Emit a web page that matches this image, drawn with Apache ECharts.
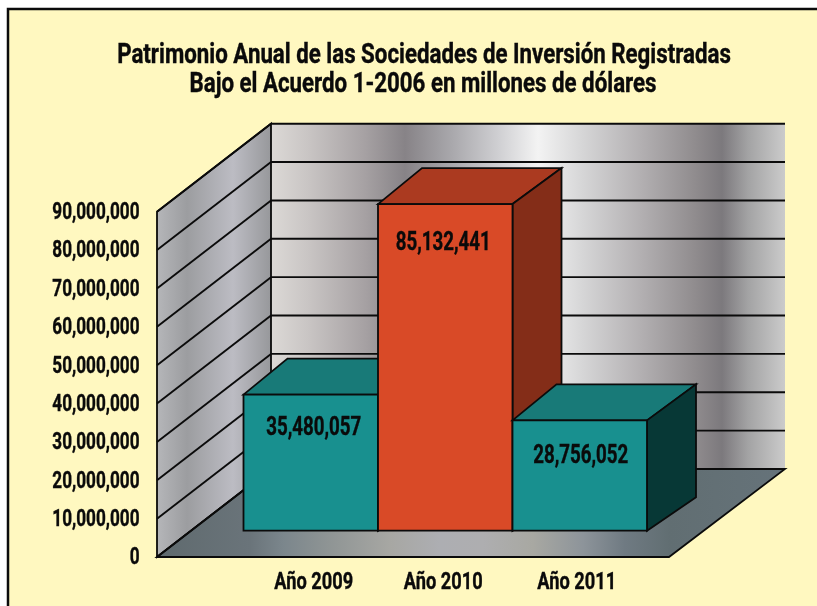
<!DOCTYPE html>
<html><head><meta charset="utf-8">
<style>html,body{margin:0;padding:0;background:#fff}#c{width:817px;height:606px}</style>
<script src="https://cdn.jsdelivr.net/npm/echarts@6/dist/echarts.min.js"></script>
</head><body><div id="c"></div>
<script>
const titleLines = ['Patrimonio Anual de las Sociedades de Inversión Registradas', 'Bajo el Acuerdo 1-2006 en millones de dólares'];
const categories = ['Año 2009', 'Año 2010', 'Año 2011'];
const values = [35480057, 85132441, 28756052];
const yTicks = [0, 10000000, 20000000, 30000000, 40000000, 50000000, 60000000, 70000000, 80000000, 90000000];
const yMax = 90000000, yStep = 10000000;

const FONT = 'Roboto,sans-serif';
const INK = '#0a0a0a';
const LINE = '#0b0b0b';
const barFaces = [
  {front:'#18908f', top:'#187a78', side:'#073836'},
  {front:'#d94a27', top:'#ab3a20', side:'#842d18'},
  {front:'#18908f', top:'#187a78', side:'#073836'}
];
const wallLeftDX = 86.5, wallDX = 114, wallDY = 88;
const barDrop = 26.3, barTopL = 44, barTopR = 49, barTopDY = 36;
const labelShift = [[3,34],[-2,39],[1,36]];
const catLabelDX = [3,-2,-3];

function squeezed(text,x,y,size,scale,align){
  return {type:'text',x,y,scaleX:scale,style:{text,x:0,y:0,align:align||'center',verticalAlign:'middle',fill:INK,stroke:INK,lineWidth:0.4,font:'700 '+size+'px '+FONT}};
}
function hGrad(x0, x1, stops){
  return new echarts.graphic.LinearGradient(x0,0,x1,0,
    stops.map(s=>({offset:(s[0]-x0)/(x1-x0),color:s[1]})),true);
}
const backStops=[[271,'#dcd9d6'],[308,'#c9c5c4'],[365,'#a6a1a3'],[405,'#878387'],[452,'#a9a8ac'],[498,'#cfcfd2'],[538,'#f3f3f3'],[582,'#d6d6d7'],[642,'#b2afb1'],[695,'#908c8e'],[722,'#7c797d'],[748,'#a3a3a4'],[785,'#cbcbcb']];
const sideStops=[[157,'#b5b6b9'],[187,'#9c9da0'],[233,'#bcbcc3'],[271,'#97989b']];
const floorStops=[[157,'#5f6a6e'],[250,'#6a747a'],[283,'#7b868c'],[327,'#8e9494'],[390,'#a7a7a3'],[440,'#adaeb2'],[483,'#aeaeb0'],[533,'#a8a8a2'],[583,'#8d949a'],[625,'#6f7a82'],[670,'#616e72'],[785,'#66737a']];

function poly(points, fill, lw){
  return {type:'polygon',shape:{points},style:{fill,stroke:LINE,lineWidth:lw||1.8,lineJoin:'miter'}};
}
function renderWalls(params, api){
  const cs=params.coordSys;
  const xF=cs.x-wallLeftDX, xB=xF+wallDX, xR=xB+514, xFR=xF+512;
  const y0=api.coord([0,0])[1], yT=api.coord([0,yMax])[1];
  return {type:'group',children:[
    {type:'rect',shape:{x:xB,y:yT-wallDY,width:xR-xB,height:y0-yT},style:{fill:hGrad(271,785,backStops)}},
    poly([[xF,y0],[xB,y0-wallDY],[xB,yT-wallDY],[xF,yT]],hGrad(157,271,sideStops)),
    poly([[xF,y0],[xB,y0-wallDY],[xR,y0-wallDY],[xFR,y0]],hGrad(157,785,floorStops))
  ]};
}
function renderGrid(params, api){
  const cs=params.coordSys;
  const xF=cs.x-wallLeftDX, xB=xF+wallDX, xR=xB+514;
  const v=api.value(0);
  const y=api.coord([0,v])[1];
  const st={stroke:LINE,lineWidth:1.9};
  return {type:'group',children:[
    {type:'line',shape:{x1:xF,y1:y,x2:xB,y2:y-wallDY},style:st},
    {type:'line',shape:{x1:xB,y1:y-wallDY,x2:xR,y2:y-wallDY},style:st},
    squeezed(v.toLocaleString('en-US'),xF-17.5,y+1.5,23.5,0.73,'right')
  ]};
}
function renderBar(params, api){
  const i=api.value(0), v=api.value(1);
  const band=api.size([1,0])[0];
  const base=api.coord([i,0]);
  const cx=base[0];
  const x0=cx-band/2, x1=cx+band/2;
  const yB=base[1]-barDrop;
  const yT=yB-api.size([0,v])[1];
  const f=barFaces[i], sh=labelShift[i];
  return {type:'group',children:[
    poly([[x0,yT],[x0+barTopL,yT-barTopDY],[x1+barTopR,yT-barTopDY],[x1,yT]],f.top),
    poly([[x1,yT],[x1+barTopR,yT-barTopDY],[x1+barTopR,yB-barTopDY+2.5],[x1,yB]],f.side),
    poly([[x0,yT],[x1,yT],[x1,yB],[x0,yB]],f.front),
    squeezed(v.toLocaleString('en-US'),cx+sh[0],yT+sh[1],26,0.72),
    squeezed(categories[i],cx+catLabelDX[i],base[1]+26,24,0.76)
  ]};
}

const chart=echarts.init(document.getElementById('c'),null,{renderer:'canvas'});
chart.setOption({
  animation:false,
  backgroundColor:'#ffffff',
  graphic:[
    {type:'rect',z:-10,silent:true,shape:{x:8,y:9,width:820,height:610},style:{fill:'#fff8c0',stroke:'#0b0b0b',lineWidth:2.5}},
    {type:'text',z:10,x:424,y:56,scaleX:0.825,style:{text:titleLines[0],x:0,y:0,align:'center',verticalAlign:'middle',fill:INK,stroke:INK,lineWidth:0.4,font:'700 27px '+FONT}},
    {type:'text',z:10,x:423,y:85,scaleX:0.825,style:{text:titleLines[1],x:0,y:0,align:'center',verticalAlign:'middle',fill:INK,stroke:INK,lineWidth:0.4,font:'700 27px '+FONT}}
  ],
  grid:{left:243.5,top:211.7,width:403.5,height:345.3},
  xAxis:{type:'category',data:categories,axisLine:{show:false},axisTick:{show:false},splitLine:{show:false},axisLabel:{show:false}},
  yAxis:{type:'value',min:0,max:yMax,interval:yStep,axisLine:{show:false},axisTick:{show:false},splitLine:{show:false},axisLabel:{show:false}},
  series:[
    {name:'walls',type:'custom',silent:true,renderItem:renderWalls,data:[[0]],encode:{x:0},z:1},
    {name:'gridlines',type:'custom',silent:true,renderItem:renderGrid,data:yTicks.map(v=>[v]),encode:{y:0},z:2},
    {name:'Patrimonio',type:'custom',renderItem:renderBar,data:values.map((v,i)=>[i,v]),encode:{x:0,y:1},z:3}
  ]
});
</script></body></html>
